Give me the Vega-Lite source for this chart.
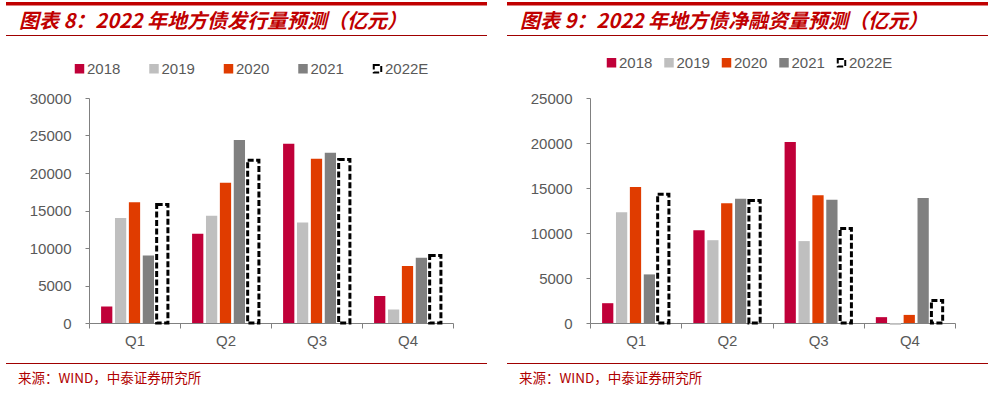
{
  "$schema": "https://vega.github.io/schema/vega-lite/v6.json",
  "padding": {"left": 6, "top": 2, "right": 0, "bottom": 0},
  "background": "white",
  "config": {
    "view": {"stroke": null},
    "font": "Liberation Sans",
    "axis": {"labelFont": "Liberation Sans", "labelColor": "#595959", "labelFontSize": 15, "domainColor": "#808080", "tickColor": "#808080", "grid": false, "title": null},
    "legend": {"labelFont": "Liberation Sans", "labelColor": "#595959", "labelFontSize": 15, "padding": 0, "labelOffset": 0, "symbolType": "square", "symbolSize": 56, "symbolStrokeWidth": 2}
  },
  "datasets": {
    "issue": [
      {"q": "Q1", "year": "2018", "v": 2200}, {"q": "Q1", "year": "2019", "v": 14000}, {"q": "Q1", "year": "2020", "v": 16100}, {"q": "Q1", "year": "2021", "v": 9000}, {"q": "Q1", "year": "2022E", "v": 15800},
      {"q": "Q2", "year": "2018", "v": 11900}, {"q": "Q2", "year": "2019", "v": 14300}, {"q": "Q2", "year": "2020", "v": 18700}, {"q": "Q2", "year": "2021", "v": 24400}, {"q": "Q2", "year": "2022E", "v": 21700},
      {"q": "Q3", "year": "2018", "v": 23900}, {"q": "Q3", "year": "2019", "v": 13400}, {"q": "Q3", "year": "2020", "v": 21900}, {"q": "Q3", "year": "2021", "v": 22700}, {"q": "Q3", "year": "2022E", "v": 21800},
      {"q": "Q4", "year": "2018", "v": 3600}, {"q": "Q4", "year": "2019", "v": 1800}, {"q": "Q4", "year": "2020", "v": 7600}, {"q": "Q4", "year": "2021", "v": 8700}, {"q": "Q4", "year": "2022E", "v": 9000}
    ],
    "net": [
      {"q": "Q1", "year": "2018", "v": 2200}, {"q": "Q1", "year": "2019", "v": 12300}, {"q": "Q1", "year": "2020", "v": 15100}, {"q": "Q1", "year": "2021", "v": 5400}, {"q": "Q1", "year": "2022E", "v": 14300},
      {"q": "Q2", "year": "2018", "v": 10300}, {"q": "Q2", "year": "2019", "v": 9200}, {"q": "Q2", "year": "2020", "v": 13300}, {"q": "Q2", "year": "2021", "v": 13800}, {"q": "Q2", "year": "2022E", "v": 13600},
      {"q": "Q3", "year": "2018", "v": 20100}, {"q": "Q3", "year": "2019", "v": 9100}, {"q": "Q3", "year": "2020", "v": 14200}, {"q": "Q3", "year": "2021", "v": 13700}, {"q": "Q3", "year": "2022E", "v": 10500},
      {"q": "Q4", "year": "2018", "v": 650}, {"q": "Q4", "year": "2019", "v": -200}, {"q": "Q4", "year": "2020", "v": 900}, {"q": "Q4", "year": "2021", "v": 13900}, {"q": "Q4", "year": "2022E", "v": 2500}
    ]
  },
  "bounds": "flush",
  "columns": 5,
  "spacing": {"row": 0, "column": 0},
  "resolve": {"scale": {"fill": "independent", "stroke": "independent", "strokeDash": "independent"}, "legend": {"fill": "independent", "stroke": "independent", "strokeDash": "independent"}},
  "concat": [
    {"width": 83, "height": 3.5, "data": {"values": []}, "mark": "point", "view": {"fill": "#C00000", "stroke": null}},
    {"width": 398, "height": 3.5, "data": {"values": []}, "mark": "point", "view": {"fill": "#C00000", "stroke": null}},
    {"width": 20, "height": 1, "data": {"values": []}, "mark": "point"},
    {"width": 83, "height": 3.5, "data": {"values": []}, "mark": "point", "view": {"fill": "#C00000", "stroke": null}},
    {"width": 398, "height": 3.5, "data": {"values": []}, "mark": "point", "view": {"fill": "#C00000", "stroke": null}},

    {"width": 1, "height": 28.5, "data": {"values": []}, "mark": "point"},
    {"width": 1, "height": 1, "data": {"values": []}, "mark": "point"},
    {"width": 1, "height": 1, "data": {"values": []}, "mark": "point"},
    {"width": 1, "height": 1, "data": {"values": []}, "mark": "point"},
    {"width": 1, "height": 1, "data": {"values": []}, "mark": "point"},

    {"width": 83, "height": 1, "data": {"values": []}, "mark": "point", "view": {"fill": "#A00000", "stroke": null},
     "title": {"text": "图表 8：2022 年地方债发行量预测（亿元）", "anchor": "start", "orient": "top", "dx": 13, "dy": 19, "offset": 6, "baseline": "alphabetic", "font": "Noto Sans CJK SC", "fontSize": 20, "fontStyle": "italic", "fontWeight": "bold", "color": "#C00000", "limit": 0}},
    {"width": 398, "height": 1, "data": {"values": []}, "mark": "point", "view": {"fill": "#A00000", "stroke": null}},
    {"width": 1, "height": 1, "data": {"values": []}, "mark": "point"},
    {"width": 83, "height": 1, "data": {"values": []}, "mark": "point", "view": {"fill": "#A00000", "stroke": null},
     "title": {"text": "图表 9：2022 年地方债净融资量预测（亿元）", "anchor": "start", "orient": "top", "dx": 13, "dy": 19, "offset": 6, "baseline": "alphabetic", "font": "Noto Sans CJK SC", "fontSize": 20, "fontStyle": "italic", "fontWeight": "bold", "color": "#C00000", "limit": 0}},
    {"width": 398, "height": 1, "data": {"values": []}, "mark": "point", "view": {"fill": "#A00000", "stroke": null}},

    {"width": 1, "height": 62, "data": {"values": []}, "mark": "point"},
    {"width": 1, "height": 1, "data": {"values": []}, "mark": "point"},
    {"width": 1, "height": 1, "data": {"values": []}, "mark": "point"},
    {"width": 1, "height": 1, "data": {"values": []}, "mark": "point"},
    {"width": 1, "height": 1, "data": {"values": []}, "mark": "point"},

    {"width": 1, "height": 225, "data": {"values": []}, "mark": "point"},
    {
      "width": 364, "height": 225,
      "data": {"name": "issue"},
      "mark": {"type": "bar"},
      "encoding": {
        "x": {"field": "q", "type": "nominal", "scale": {"paddingInner": 0, "paddingOuter": 0}, "axis": {"labelAngle": 0, "tickBand": "extent", "tickSize": 5, "labelPadding": 5}},
        "xOffset": {"field": "year", "type": "nominal", "scale": {"paddingInner": 0.19, "paddingOuter": 0.87}},
        "y": {"field": "v", "type": "quantitative", "scale": {"domain": [0, 30000]}, "axis": {"values": [0, 5000, 10000, 15000, 20000, 25000, 30000], "tickSize": 4, "labelPadding": 14, "format": "d"}},
        "fill": {"field": "year", "type": "nominal", "scale": {"domain": ["2018", "2019", "2020", "2021", "2022E"], "range": ["#C00039", "#BFBFBF", "#E03C00", "#808080", "#FFFFFF"]}, "legend": {"title": null, "orient": "none", "direction": "horizontal", "legendX": -17, "legendY": -37, "columnPadding": 24.5}},
        "stroke": {"field": "year", "type": "nominal", "scale": {"domain": ["2018", "2019", "2020", "2021", "2022E"], "range": ["#C00039", "#BFBFBF", "#E03C00", "#808080", "#000000"]}, "legend": {"title": null, "orient": "none", "direction": "horizontal", "legendX": -17, "legendY": -37, "columnPadding": 24.5}},
        "strokeDash": {"field": "year", "type": "nominal", "scale": {"domain": ["2018", "2019", "2020", "2021", "2022E"], "range": [[1, 0], [1, 0], [1, 0], [1, 0], [6, 2.5]]}, "legend": {"title": null, "orient": "none", "direction": "horizontal", "legendX": -17, "legendY": -37, "columnPadding": 24.5}},
        "strokeWidth": {"condition": {"test": "datum.year === '2022E'", "value": 3}, "value": 0}
      }
    },
    {"width": 1, "height": 1, "data": {"values": []}, "mark": "point"},
    {"width": 1, "height": 1, "data": {"values": []}, "mark": "point"},
    {
      "width": 365, "height": 225,
      "data": {"name": "net"},
      "mark": {"type": "bar"},
      "encoding": {
        "x": {"field": "q", "type": "nominal", "scale": {"paddingInner": 0, "paddingOuter": 0}, "axis": {"labelAngle": 0, "tickBand": "extent", "tickSize": 5, "labelPadding": 5}},
        "xOffset": {"field": "year", "type": "nominal", "scale": {"paddingInner": 0.19, "paddingOuter": 0.87}},
        "y": {"field": "v", "type": "quantitative", "scale": {"domain": [0, 25000]}, "axis": {"values": [0, 5000, 10000, 15000, 20000, 25000], "tickSize": 4, "labelPadding": 14, "format": "d"}},
        "fill": {"field": "year", "type": "nominal", "scale": {"domain": ["2018", "2019", "2020", "2021", "2022E"], "range": ["#C00039", "#BFBFBF", "#E03C00", "#808080", "#FFFFFF"]}, "legend": {"title": null, "orient": "none", "direction": "horizontal", "legendX": 14, "legendY": -43, "columnPadding": 7.5}},
        "stroke": {"field": "year", "type": "nominal", "scale": {"domain": ["2018", "2019", "2020", "2021", "2022E"], "range": ["#C00039", "#BFBFBF", "#E03C00", "#808080", "#000000"]}, "legend": {"title": null, "orient": "none", "direction": "horizontal", "legendX": 14, "legendY": -43, "columnPadding": 7.5}},
        "strokeDash": {"field": "year", "type": "nominal", "scale": {"domain": ["2018", "2019", "2020", "2021", "2022E"], "range": [[1, 0], [1, 0], [1, 0], [1, 0], [6, 2.5]]}, "legend": {"title": null, "orient": "none", "direction": "horizontal", "legendX": 14, "legendY": -43, "columnPadding": 7.5}},
        "strokeWidth": {"condition": {"test": "datum.year === '2022E'", "value": 3}, "value": 0}
      }
    },

    {"width": 1, "height": 39.2, "data": {"values": []}, "mark": "point"},
    {"width": 1, "height": 1, "data": {"values": []}, "mark": "point"},
    {"width": 1, "height": 1, "data": {"values": []}, "mark": "point"},
    {"width": 1, "height": 1, "data": {"values": []}, "mark": "point"},
    {"width": 1, "height": 1, "data": {"values": []}, "mark": "point"},

    {"width": 83, "height": 1, "data": {"values": []}, "mark": "point", "view": {"fill": "#A00000", "stroke": null},
     "title": {"text": "来源：WIND，中泰证券研究所", "anchor": "start", "orient": "bottom", "dx": 12, "offset": 18.5, "baseline": "alphabetic", "font": "Noto Sans CJK SC", "fontSize": 13.5, "fontWeight": "normal", "color": "#B00000", "limit": 0}},
    {"width": 398, "height": 1, "data": {"values": []}, "mark": "point", "view": {"fill": "#A00000", "stroke": null}},
    {"width": 1, "height": 1, "data": {"values": []}, "mark": "point"},
    {"width": 83, "height": 1, "data": {"values": []}, "mark": "point", "view": {"fill": "#A00000", "stroke": null},
     "title": {"text": "来源：WIND，中泰证券研究所", "anchor": "start", "orient": "bottom", "dx": 12, "offset": 18.5, "baseline": "alphabetic", "font": "Noto Sans CJK SC", "fontSize": 13.5, "fontWeight": "normal", "color": "#B00000", "limit": 0}},
    {"width": 398, "height": 1, "data": {"values": []}, "mark": "point", "view": {"fill": "#A00000", "stroke": null}}
  ]
}
